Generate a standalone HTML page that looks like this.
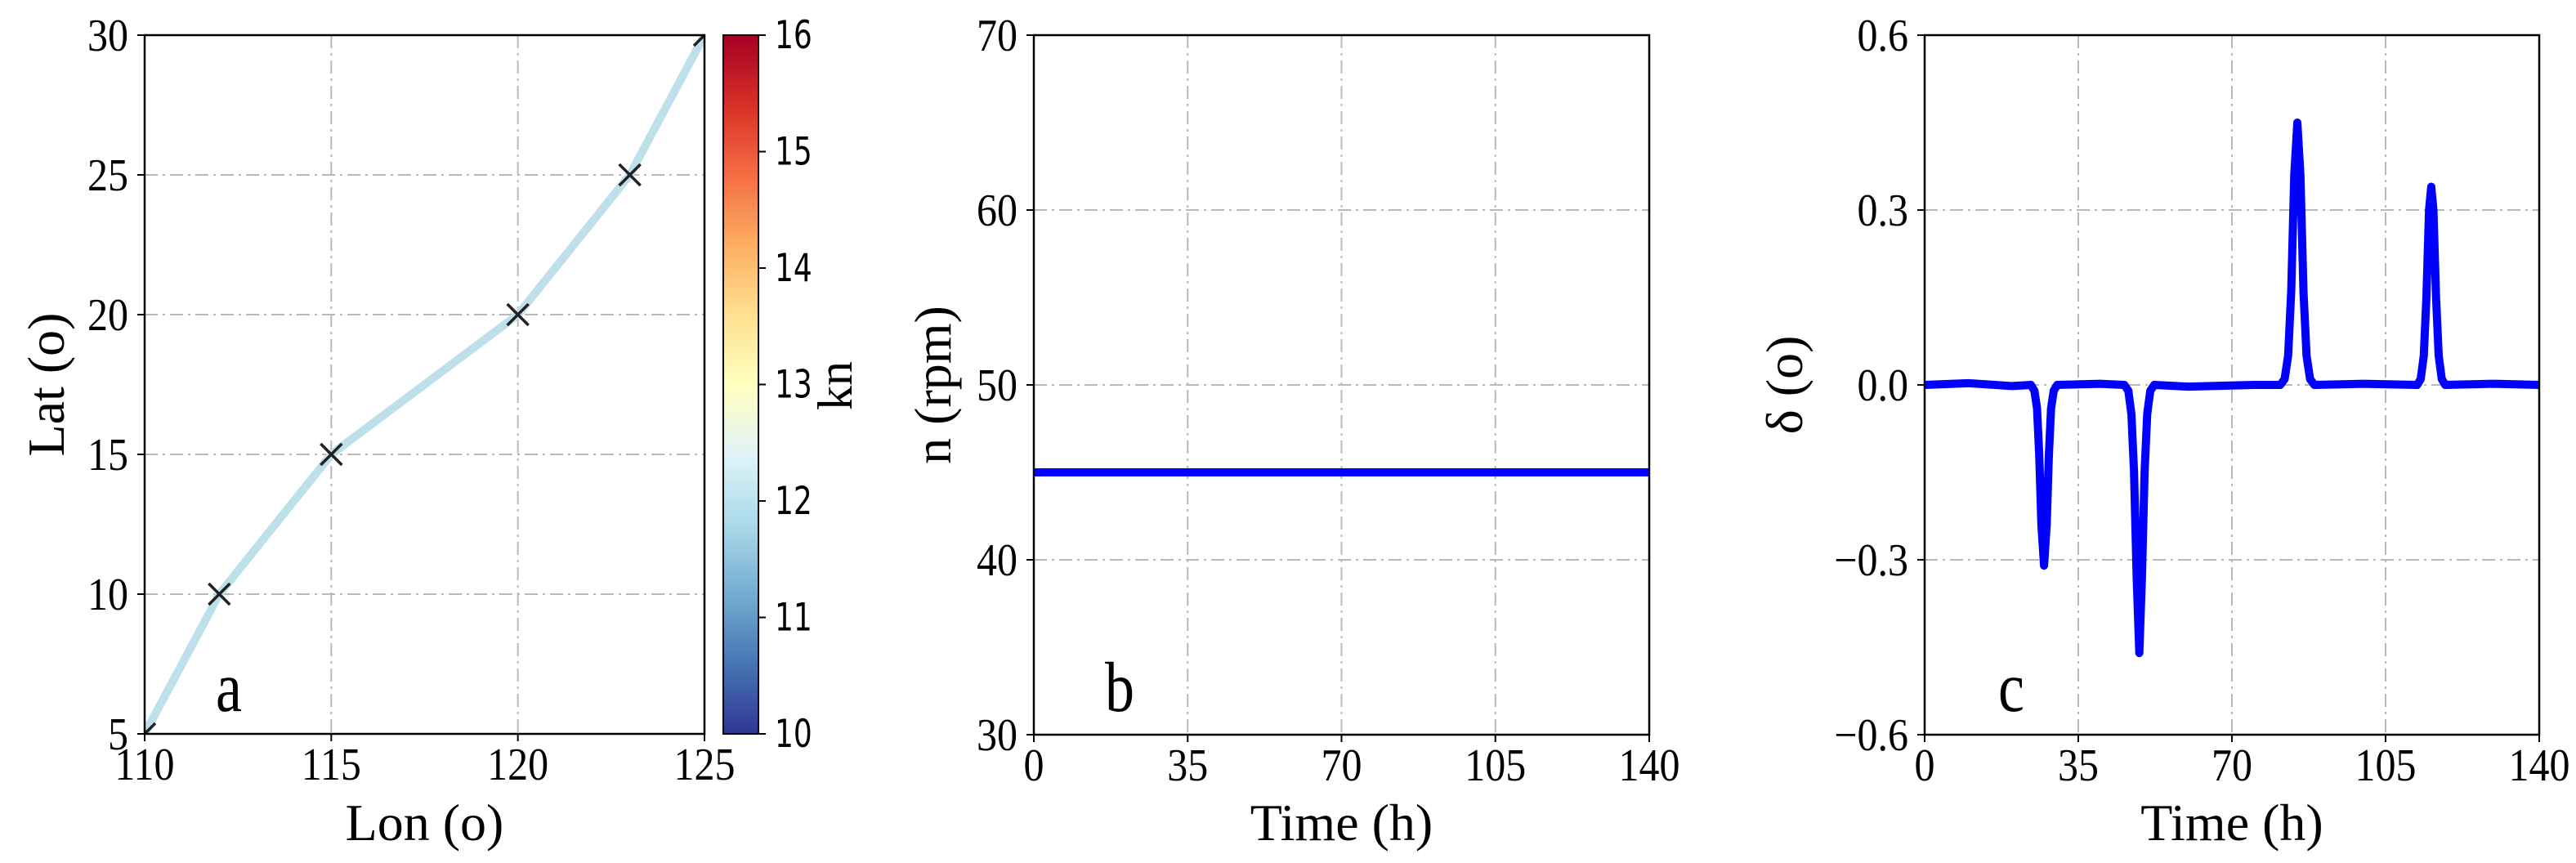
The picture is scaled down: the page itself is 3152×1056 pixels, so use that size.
<!DOCTYPE html>
<html><head><meta charset="utf-8"><style>
html,body{margin:0;padding:0;background:#fff;}
svg{display:block;}
text{font-family:"Liberation Serif",serif;fill:#000;}
.cb{font-family:"DejaVu Sans","Liberation Sans",sans-serif;}
</style></head><body>
<svg id="fig" width="3152" height="1056" viewBox="0 0 3152 1056" xmlns="http://www.w3.org/2000/svg">
<defs>
<linearGradient id="rdylbu" x1="0" y1="1" x2="0" y2="0">
<stop offset="0" stop-color="#313695"/><stop offset="0.1" stop-color="#4575b4"/><stop offset="0.2" stop-color="#74add1"/><stop offset="0.3" stop-color="#abd9e9"/><stop offset="0.4" stop-color="#e0f3f8"/><stop offset="0.5" stop-color="#ffffbf"/><stop offset="0.6" stop-color="#fee090"/><stop offset="0.7" stop-color="#fdae61"/><stop offset="0.8" stop-color="#f46d43"/><stop offset="0.9" stop-color="#d73027"/><stop offset="1" stop-color="#a50026"/>
</linearGradient>
<clipPath id="clipA"><rect x="177" y="43" width="685" height="855"/></clipPath>
<clipPath id="clipB"><rect x="1265" y="43" width="753" height="856"/></clipPath>
<clipPath id="clipC"><rect x="2355" y="43" width="752" height="856"/></clipPath>
</defs>
</svg>
<script>
// ---- Panel a data ----
const routeLon = [110, 112, 115, 120, 123, 125];
const routeLat = [5, 10, 15, 20, 25, 30];
const aXTicks = [110, 115, 120, 125];
const aYTicks = [5, 10, 15, 20, 25, 30];
const cbTicks = [10, 11, 12, 13, 14, 15, 16];
// ---- Panel b data ----
const bTime = [0, 140];
const bRpm = [45, 45];
const bXTicks = [0, 35, 70, 105, 140];
const bYTicks = [30, 40, 50, 60, 70];
// ---- Panel c data ----
const cTime = [0,10,20,24.2,25.0,25.6,26.1,26.6,27.2,27.8,28.3,28.8,29.4,30.2,40,45.5,46.4,47.1,47.7,48.3,48.9,49.5,50.1,50.7,51.4,52.3,60,75,81,82,82.8,83.5,84.2,84.9,85.6,86.3,87,87.8,88.8,100,112.2,113,113.7,114.3,114.9,115.4,115.9,116.5,117.1,117.8,118.6,130,140];
const cDelta = [0,0.003,-0.002,0,-0.01,-0.04,-0.12,-0.24,-0.31,-0.24,-0.12,-0.04,-0.01,0,0.002,0,-0.01,-0.05,-0.15,-0.33,-0.46,-0.33,-0.15,-0.05,-0.01,0,-0.003,0,0,0.01,0.05,0.16,0.36,0.45,0.36,0.16,0.05,0.01,0,0.002,0,0.01,0.05,0.15,0.3,0.34,0.3,0.15,0.05,0.01,0,0.002,0];
const cXTicks = [0, 35, 70, 105, 140];
const cYTicks = [-0.6, -0.3, 0.0, 0.3, 0.6];
const cYLabels = ["\u22120.6", "\u22120.3", "0.0", "0.3", "0.6"];

const NS = "http://www.w3.org/2000/svg";
const svg = document.getElementById('fig');
function mk(tag, attrs, parent, txt){
  const e = document.createElementNS(NS, tag);
  for (const k in attrs) e.setAttribute(k, attrs[k]);
  if (txt !== undefined) e.textContent = txt;
  (parent || svg).appendChild(e);
  return e;
}
function lin(d0, d1, r0, r1){ return v => r0 + (v - d0) / (d1 - d0) * (r1 - r0); }

function axes(p){
  const g = mk('g', {});
  
  
  p.xTicks.forEach(t => {
    const x = p.sx(t);
    if (x > p.x0 + 2 && x < p.x1 - 2) {
      const l = mk('line', {x1:x, y1:p.y0, x2:x, y2:p.y1, stroke:'#b8b8b8', 'stroke-width':2, 'stroke-dasharray':'16 6 3 6'}, g);
      
      
    }
  });
  p.yTicks.forEach(t => {
    const y = p.sy(t);
    if (y > p.y0 + 2 && y < p.y1 - 2) {
      const l = mk('line', {x1:p.x0, y1:y, x2:p.x1, y2:y, stroke:'#b8b8b8', 'stroke-width':2, 'stroke-dasharray':'16 6 3 6'}, g);
      
      
    }
  });
  p.xTicks.forEach((t, i) => {
    const x = p.sx(t);
    const tk = mk('line', {x1:x, y1:p.y1, x2:x, y2:p.y1 + 9, stroke:'#000', 'stroke-width':2}, g);
    
    
    const tx = mk('text', {x:x, y:0, 'text-anchor':'middle', 'font-size':50, transform:'translate(0,' + (p.y1 + 56) + ') scale(1,1.12)'}, g, String(t));
    
    
  });
  p.yTicks.forEach((t, i) => {
    const y = p.sy(t);
    const tk = mk('line', {x1:p.x0 - 9, y1:y, x2:p.x0, y2:y, stroke:'#000', 'stroke-width':2}, g);
    
    
    const lab = p.yLabels ? p.yLabels[i] : String(t);
    const tx = mk('text', {x:p.x0 - 20, y:0, 'text-anchor':'end', 'font-size':50, transform:'translate(0,' + (y + 19) + ') scale(1,1.12)'}, g, lab);
    
    
  });
  const xt = mk('text', {x:(p.x0 + p.x1) / 2, y:1028, 'text-anchor':'middle', 'font-size':64}, g, p.xTitle);
  
  
  const yt = mk('text', {x:0, y:0, 'text-anchor':'middle', 'font-size':64, transform:'translate(' + p.yTitleX + ',' + ((p.y0 + p.y1) / 2) + ') rotate(-90)'}, g, p.yTitle);
  
  
  const lt = mk('text', {x:p.letterX, y:0, 'font-size':72, transform:'translate(0,870) scale(1,1.2)'}, g, p.letter);
  
  
  return g;
}
function frame(p){
  const r = mk('rect', {x:p.x0, y:p.y0, width:p.x1 - p.x0, height:p.y1 - p.y0, fill:'none', stroke:'#000', 'stroke-width':2.5});
  
  
}

// ---- Panel a ----
const A = {name:'panel-a', x0:177, x1:862, y0:43, y1:898, xTicks:aXTicks, yTicks:aYTicks, xTitle:'Lon (o)', yTitle:'Lat (o)', yTitleX:78, letter:'a', letterX:264};
A.sx = lin(110, 125, A.x0, A.x1); A.sy = lin(5, 30, A.y1, A.y0);
axes(A);
const gA = mk('g', {'clip-path':'url(#clipA)'});


const route = mk('polyline', {points: routeLon.map((v, i) => A.sx(v) + ',' + A.sy(routeLat[i])).join(' '), fill:'none', stroke:'#bde0ea', 'stroke-width':10, 'stroke-linejoin':'round'}, gA);


routeLon.forEach((v, i) => {
  const x = A.sx(v), y = A.sy(routeLat[i]), s = 13;
  const m = mk('path', {d:'M' + (x - s) + ',' + (y - s) + 'L' + (x + s) + ',' + (y + s) + 'M' + (x - s) + ',' + (y + s) + 'L' + (x + s) + ',' + (y - s), stroke:'#222', 'stroke-width':3.5, fill:'none'}, gA);
  
  
});
frame(A);
const cbX0 = 885, cbX1 = 928, cbY0 = 43, cbY1 = 898;
const cbS = lin(10, 16, cbY1, cbY0);
const cb = mk('rect', {x:cbX0, y:cbY0, width:cbX1 - cbX0, height:cbY1 - cbY0, fill:'url(#rdylbu)', stroke:'#000', 'stroke-width':2});


cbTicks.forEach(t => {
  const y = cbS(t);
  const l = mk('line', {x1:cbX1, y1:y, x2:cbX1 + 9, y2:y, stroke:'#000', 'stroke-width':2});
  
  
  const tx = mk('text', {x:cbX1 + 20, y:0, 'font-size':36, 'class':'cb', transform:'translate(0,' + (y + 16) + ') scale(1,1.3)'}, svg, String(t));
  
  
});
const kn = mk('text', {x:0, y:0, 'text-anchor':'middle', 'font-size':60, transform:'translate(1042,472) rotate(-90)'}, svg, 'kn');



// ---- Panel b ----
const B = {name:'panel-b', x0:1265, x1:2018, y0:43, y1:899, xTicks:bXTicks, yTicks:bYTicks, xTitle:'Time (h)', yTitle:'n (rpm)', yTitleX:1163, letter:'b', letterX:1352};
B.sx = lin(0, 140, B.x0, B.x1); B.sy = lin(30, 70, B.y1, B.y0);
axes(B);
const gB = mk('g', {'clip-path':'url(#clipB)'});


const rpm = mk('polyline', {points: bTime.map((v, i) => B.sx(v) + ',' + B.sy(bRpm[i])).join(' '), fill:'none', stroke:'#0000ff', 'stroke-width':10}, gB);


frame(B);

// ---- Panel c ----
const C = {name:'panel-c', x0:2355, x1:3107, y0:43, y1:899, xTicks:cXTicks, yTicks:cYTicks, yLabels:cYLabels, xTitle:'Time (h)', yTitle:'\u03b4 (o)', yTitleX:2205, letter:'c', letterX:2445};
C.sx = lin(0, 140, C.x0, C.x1); C.sy = lin(-0.6, 0.6, C.y1, C.y0);
axes(C);
const gC = mk('g', {'clip-path':'url(#clipC)'});


const rud = mk('polyline', {points: cTime.map((v, i) => C.sx(v) + ',' + C.sy(cDelta[i])).join(' '), fill:'none', stroke:'#0000ff', 'stroke-width':10, 'stroke-linejoin':'round', 'stroke-linecap':'round'}, gC);


frame(C);
</script>
</body></html>
